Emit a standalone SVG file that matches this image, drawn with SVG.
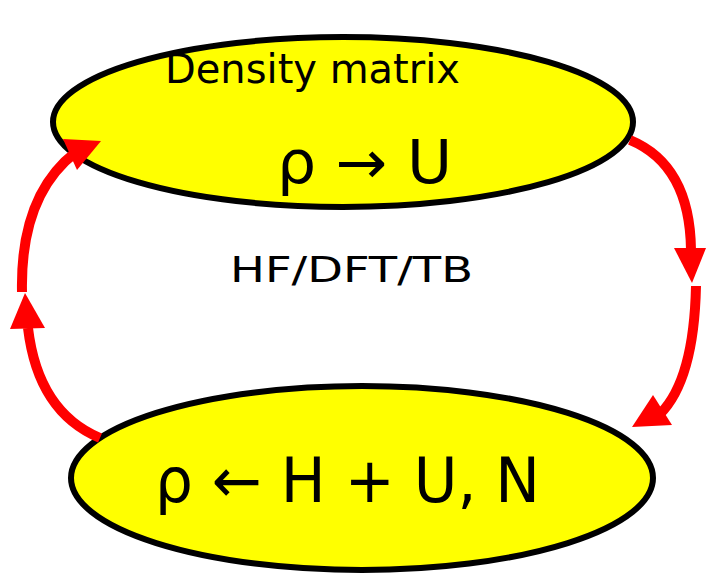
<svg xmlns="http://www.w3.org/2000/svg" width="706" height="581" viewBox="0 0 706 581">
<style>
.node ellipse{fill:#ffff00;stroke:#000;stroke-width:6}
.t{font-family:"DejaVu Sans","Liberation Sans",sans-serif;fill:#000}
.arc{fill:none;stroke:#ff0000;stroke-width:10}
.head{fill:#ff0000}
</style>
<rect width="706" height="581" fill="#fff"/>
<g id="top">
<g class="node"><ellipse cx="343" cy="122" rx="290" ry="85"/></g>
<text class="t" x="165" y="83" font-size="40" textLength="295" lengthAdjust="spacingAndGlyphs">Density matrix</text>
<text class="t" x="277" y="183" font-size="60" textLength="175" lengthAdjust="spacingAndGlyphs">ρ → U</text>
</g>
<g id="bottom">
<g class="node"><ellipse cx="362" cy="478" rx="291" ry="92"/></g>
<text class="t" x="155" y="502" font-size="62" textLength="385" lengthAdjust="spacingAndGlyphs">ρ ← H + U, N</text>
</g>
<text class="t" x="230" y="282" font-size="36" textLength="243" lengthAdjust="spacingAndGlyphs">HF/DFT/TB</text>
<g id="connectors">
<path class="arc" d="M630,140 Q690,165 691,250"/>
<polygon class="head" points="674,248 706,248 692,283"/>
<path class="arc" d="M696,286 Q694,380 660,414"/>
<polygon class="head" points="632,427 653,395 672,425"/>
<path class="arc" d="M100,438 Q38,412 28,328"/>
<polygon class="head" points="10,329 45,328 25,293"/>
<path class="arc" d="M22,292 Q20,195 76,152"/>
<polygon class="head" points="63,139 101,141 77,170"/>
</g>
</svg>
